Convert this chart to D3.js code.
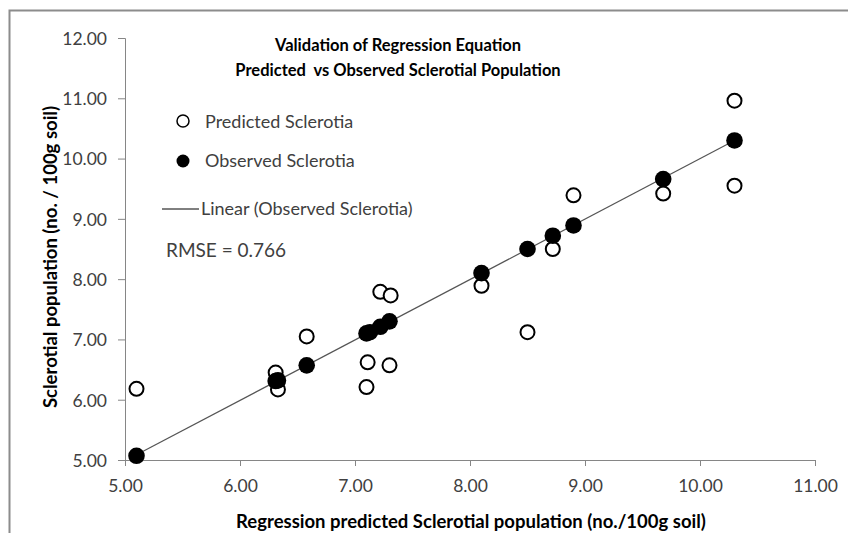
<!DOCTYPE html>
<html lang="en">
<head>
    <meta charset="utf-8">
    <title>Validation of Regression Equation</title>
    <script src="https://d3js.org/d3.v7.min.js"></script>
    <style>
        body { margin: 0; background: #fff; }
        text { font-family: Lato, "Open Sans", sans-serif; }
        .tick text { fill: #404040; font-size: 17.5px; }
        .tick line, .domain { stroke: #868686; }
    </style>
</head>
<body>
<svg id="chart"></svg>
<script>

    // predicted sclerotia (open circles)
    const predX = [5.10, 6.31, 6.33, 6.58, 7.10, 7.11, 7.30, 7.22, 7.31, 8.10, 8.50, 8.72, 8.90, 9.68, 10.30, 10.30];
    const predY = [6.18, 6.45, 6.17, 7.05, 6.21, 6.62, 6.57, 7.79, 7.73, 7.89, 7.12, 8.50, 9.39, 9.42, 9.55, 10.96];

    // observed sclerotia (filled circles)
    const obsX = [5.10, 6.31, 6.33, 6.58, 7.10, 7.13, 7.22, 7.30, 8.10, 8.50, 8.72, 8.90, 9.68, 10.30];
    const obsY = [5.07, 6.31, 6.32, 6.57, 7.10, 7.12, 7.21, 7.30, 8.10, 8.50, 8.72, 8.89, 9.66, 10.30];

    const xTicks = [5, 6, 7, 8, 9, 10, 11];
    const yTicks = [5, 6, 7, 8, 9, 10, 11, 12];

    let width = 848,
        height = 533;

    let svg = d3.select("#chart")
        .attr("width", width)
        .attr("height", height);

    // outer chart frame (cut off at right and bottom)
    svg.append("rect")
        .attr("x", 9.5).attr("y", 10.5)
        .attr("width", 900).attr("height", 600)
        .attr("fill", "none")
        .attr("stroke", "#8c8c8c")
        .attr("stroke-width", 2);

    let x = d3.scaleLinear().domain([5, 11]).range([125, 815]);
    let y = d3.scaleLinear().domain([5, 12]).range([460, 38]);

    svg.append("g")
        .attr("transform", "translate(0,460)")
        .call(d3.axisBottom(x).tickValues(xTicks).tickFormat(d3.format(".2f")).tickSize(6).tickPadding(14));

    svg.append("g")
        .attr("transform", "translate(125,0)")
        .call(d3.axisLeft(y).tickValues(yTicks).tickFormat(d3.format(".2f")).tickSize(7).tickPadding(11))
        .call(g => g.selectAll(".tick text").attr("dy", "0.36em"));

    // linear fit of observed
    let mx = d3.mean(obsX), my = d3.mean(obsY);
    let slope = d3.sum(obsX, (v, i) => (v - mx) * (obsY[i] - my)) / d3.sum(obsX, v => (v - mx) ** 2);
    let icpt = my - slope * mx;
    let xr = d3.extent(obsX);

    svg.append("line")
        .attr("x1", x(xr[0])).attr("y1", y(icpt + slope * xr[0]))
        .attr("x2", x(xr[1])).attr("y2", y(icpt + slope * xr[1]))
        .attr("stroke", "#555")
        .attr("stroke-width", 1.2);

    svg.append("g")
        .selectAll("circle")
        .data(predX)
        .enter().append("circle")
        .attr("cx", d => x(d))
        .attr("cy", (d, i) => y(predY[i]))
        .attr("r", 7)
        .attr("fill", "#fff")
        .attr("stroke", "#000")
        .attr("stroke-width", 2);

    svg.append("g")
        .selectAll("circle")
        .data(obsX)
        .enter().append("circle")
        .attr("cx", d => x(d))
        .attr("cy", (d, i) => y(obsY[i]))
        .attr("r", 8.3)
        .attr("fill", "#000");

    // titles
    let title = svg.append("text")
        .attr("text-anchor", "middle")
        .attr("font-weight", "bold")
        .attr("font-size", 16.5)
        .attr("fill", "#000");
    title.append("tspan").attr("x", 398).attr("y", 51).text("Validation of Regression Equation");
    title.append("tspan").attr("x", 398).attr("y", 76).text("Predicted  vs Observed Sclerotial Population")
        .style("white-space", "pre");

    svg.append("text")
        .attr("x", 471).attr("y", 528)
        .attr("text-anchor", "middle")
        .attr("font-weight", "bold")
        .attr("font-size", 18.5)
        .text("Regression predicted Sclerotial population (no./100g soil)");

    svg.append("text")
        .attr("transform", "translate(57,257) rotate(-90)")
        .attr("text-anchor", "middle")
        .attr("font-weight", "bold")
        .attr("font-size", 18.5)
        .text("Sclerotial population (no. / 100g soil)");

    // legend
    let legend = svg.append("g").attr("font-size", 18).attr("fill", "#404040");
    legend.append("circle").attr("cx", 183).attr("cy", 121).attr("r", 6)
        .attr("fill", "#fff").attr("stroke", "#000").attr("stroke-width", 1.5);
    legend.append("text").attr("x", 205).attr("y", 127.5).text("Predicted Sclerotia");
    legend.append("circle").attr("cx", 183).attr("cy", 161).attr("r", 6.5).attr("fill", "#000");
    legend.append("text").attr("x", 205).attr("y", 166.5).text("Observed Sclerotia");
    legend.append("line").attr("x1", 162).attr("x2", 199).attr("y1", 209).attr("y2", 209)
        .attr("stroke", "#000").attr("stroke-width", 1);
    legend.append("text").attr("x", 201).attr("y", 215).text("Linear (Observed Sclerotia)");
    legend.append("text").attr("x", 166).attr("y", 257).attr("font-size", 19).text("RMSE = 0.766");

</script>
</body>
</html>
